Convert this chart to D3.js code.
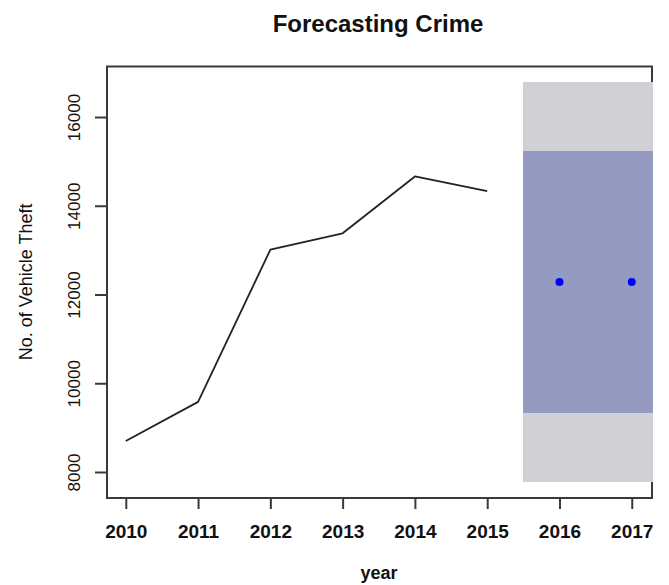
<!DOCTYPE html>
<html>
<head>
<meta charset="utf-8">
<script src="https://cdn.jsdelivr.net/npm/d3@7"></script>
<style>
  html, body { margin: 0; padding: 0; background: #ffffff; }
  svg { display: block; }
  text { font-family: "Liberation Sans", Arial, sans-serif; fill: #111; }
</style>
</head>
<body>
<svg id="chart" width="669" height="585"></svg>
<script>
// Observed vehicle thefts per year
const years = [2010, 2011, 2012, 2013, 2014, 2015];
const thefts = [8700, 9580, 13010, 13380, 14660, 14330];

// Point forecasts with 80% and 95% prediction intervals
const forecastYears = [2016, 2017];
const forecastMean = [12280, 12280];
const lo80 = [9330, 9330];
const hi80 = [15230, 15230];
const lo95 = [7770, 7770];
const hi95 = [16790, 16790];

const xTicks = [2010, 2011, 2012, 2013, 2014, 2015, 2016, 2017];
const yTicks = [8000, 10000, 12000, 14000, 16000];

const svg = d3.select("#chart");
const plot = { left: 107, right: 652, top: 66.5, bottom: 498 };

const x = d3.scaleLinear().domain([2009.74, 2017.28]).range([plot.left, plot.right]);
const y = d3.scaleLinear().domain([7414, 17138]).range([plot.bottom, plot.top]);

// Title
svg.append("text")
  .attr("x", 378).attr("y", 31.5)
  .attr("text-anchor", "middle")
  .style("font-size", "24px").style("font-weight", "bold")
  .text("Forecasting Crime");

// Frame around the plotting region
svg.append("rect")
  .attr("x", plot.left).attr("y", plot.top)
  .attr("width", plot.right - plot.left).attr("height", plot.bottom - plot.top)
  .attr("fill", "none").attr("stroke", "#3a3a3a").attr("stroke-width", 2);

// Clip for the interval shading
svg.append("clipPath").attr("id", "plotClip")
  .append("rect")
  .attr("x", plot.left).attr("y", plot.top)
  .attr("width", plot.right - plot.left + 1).attr("height", plot.bottom - plot.top);

const shade = svg.append("g").attr("clip-path", "url(#plotClip)")
  .attr("shape-rendering", "crispEdges");

const bands = forecastYears.map((yr, i) => ({ yr, lo80: lo80[i], hi80: hi80[i], lo95: lo95[i], hi95: hi95[i] }));

shade.selectAll("rect.b95").data(bands).join("rect")
  .attr("class", "b95")
  .attr("x", d => x(d.yr - 0.5)).attr("width", d => x(d.yr + 0.5) - x(d.yr - 0.5))
  .attr("y", d => y(d.hi95)).attr("height", d => y(d.lo95) - y(d.hi95))
  .attr("fill", "#d0d0d5");

shade.selectAll("rect.b80").data(bands).join("rect")
  .attr("class", "b80")
  .attr("x", d => x(d.yr - 0.5)).attr("width", d => x(d.yr + 0.5) - x(d.yr - 0.5))
  .attr("y", d => y(d.hi80)).attr("height", d => y(d.lo80) - y(d.hi80))
  .attr("fill", "#959bc0");

// Historical series
const line = d3.line().x((d, i) => x(years[i])).y(d => y(d));
svg.append("path")
  .attr("d", line(thefts))
  .attr("fill", "none").attr("stroke", "#222").attr("stroke-width", 1.8)
  .attr("stroke-linejoin", "round");

// Forecast points
svg.selectAll("circle.fc").data(forecastMean).join("circle")
  .attr("class", "fc")
  .attr("cx", (d, i) => x(forecastYears[i])).attr("cy", d => y(d))
  .attr("r", 4).attr("fill", "#0000ff");

// X axis
const xAxis = d3.axisBottom(x).tickValues(xTicks).tickFormat(d3.format("d"))
  .tickSize(11).tickPadding(16);
const gx = svg.append("g").attr("transform", `translate(0,${plot.bottom})`).call(xAxis);
gx.select(".domain").remove();
gx.selectAll(".tick line").attr("stroke", "#3a3a3a").attr("stroke-width", 2);
gx.selectAll(".tick text")
  .style("font-size", "19px").style("font-weight", "bold")
  .style("font-family", "'Liberation Sans', Arial, sans-serif").attr("fill", "#111");

// Y axis
const yAxis = d3.axisLeft(y).tickValues(yTicks).tickFormat(d3.format("d")).tickSize(12);
const gy = svg.append("g").attr("transform", `translate(${plot.left},0)`).call(yAxis);
gy.select(".domain").remove();
gy.selectAll(".tick line").attr("stroke", "#3a3a3a").attr("stroke-width", 2);
gy.selectAll(".tick text")
  .attr("x", null).attr("dy", null)
  .attr("transform", "translate(-27,0) rotate(-90)")
  .attr("text-anchor", "middle")
  .style("font-size", "17px")
  .style("font-family", "'Liberation Sans', Arial, sans-serif").attr("fill", "#111");

// Axis titles
svg.append("text")
  .attr("transform", `translate(32,${y(12282)}) rotate(-90)`)
  .attr("text-anchor", "middle")
  .style("font-size", "18px")
  .text("No. of Vehicle Theft");

svg.append("text")
  .attr("x", 379).attr("y", 579)
  .attr("text-anchor", "middle")
  .style("font-size", "18px").style("font-weight", "bold")
  .text("year");
</script>
</body>
</html>
